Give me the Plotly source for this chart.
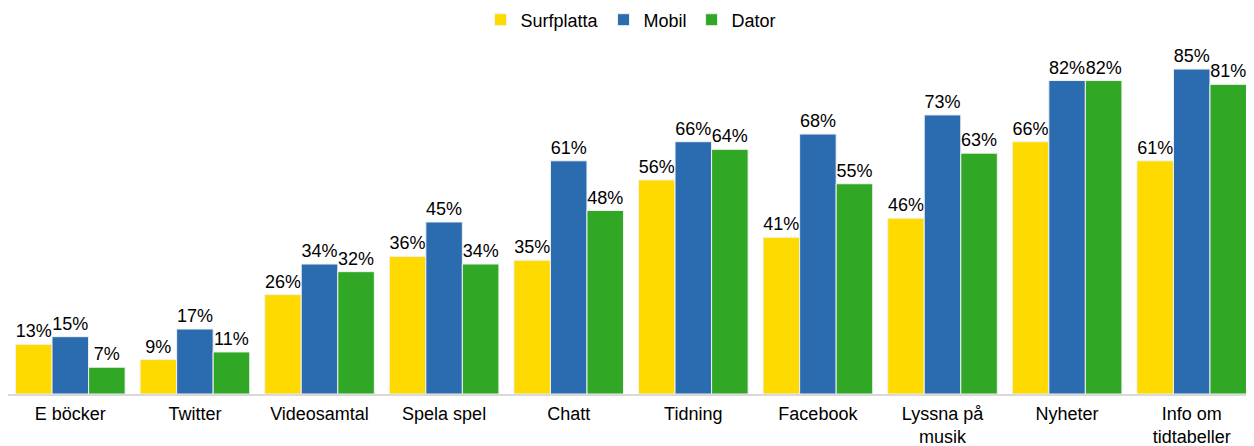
import plotly.graph_objects as go

categories = ["E böcker", "Twitter", "Videosamtal", "Spela spel", "Chatt", "Tidning",
              "Facebook", "Lyssna på<br>musik", "Nyheter", "Info om<br>tidtabeller"]
surfplatta = [13, 9, 26, 36, 35, 56, 41, 46, 66, 61]
mobil = [15, 17, 34, 45, 61, 66, 68, 73, 82, 85]
dator = [7, 11, 32, 34, 48, 64, 55, 63, 82, 81]

series = [
    ("Surfplatta", surfplatta, "#FFDA00"),
    ("Mobil", mobil, "#2B6CB0"),
    ("Dator", dator, "#30A826"),
]

fig = go.Figure()
for name, vals, color in series:
    fig.add_trace(go.Bar(
        x=categories,
        y=vals,
        name=name,
        marker=dict(color=color, line=dict(color="#F2F2F2", width=1)),
        text=[f"{v}%" for v in vals],
        textposition="outside",
        textfont=dict(size=18, color="#000000"),
        constraintext="none",
        cliponaxis=False,
    ))

# page body has an 8px margin, so the figure is sized to what is visible
fig.update_layout(
    barmode="group",
    bargap=0.12,
    bargroupgap=0,
    width=1246,
    height=438,
    margin=dict(l=0, r=0, t=32, b=52, autoexpand=False),
    paper_bgcolor="white",
    plot_bgcolor="white",
    font=dict(family="Liberation Sans, Arial, sans-serif", size=18, color="#000000"),
    legend=dict(
        orientation="h",
        x=0.5,
        xanchor="center",
        y=1.0565,
        yanchor="middle",
        font=dict(size=18),
        itemwidth=30,
        traceorder="normal",
        bgcolor="rgba(0,0,0,0)",
    ),
)
fig.update_xaxes(
    showline=True,
    linecolor="#D9D9D9",
    linewidth=2,
    ticks="",
    tickfont=dict(size=18),
    ticklabelstandoff=2,
)
fig.update_yaxes(range=[0, 92.6], visible=False, showgrid=False)

fig.write_html("out.html")
